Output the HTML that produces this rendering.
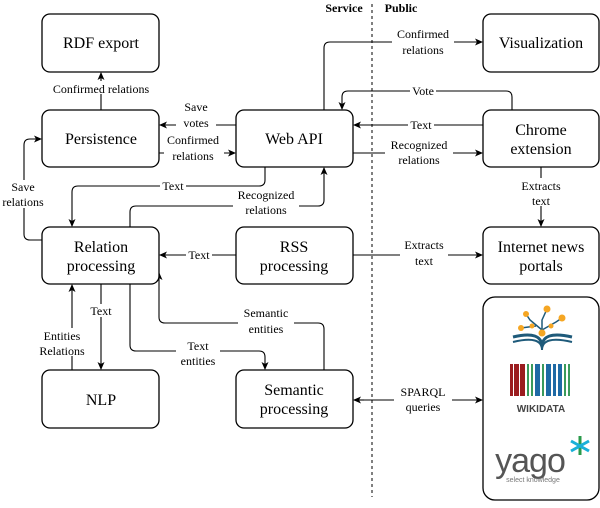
<!DOCTYPE html>
<html><head><meta charset="utf-8"><style>
html,body{margin:0;padding:0;background:#fff;}
svg, svg text, svg tspan{font-family:"Liberation Serif",serif !important;}
.bx{fill:#fff;stroke:#000;stroke-width:1.3;}
.ln{fill:none;stroke:#000;stroke-width:1.1;}
.wh{fill:#fff;}
svg text.sans{font-family:"Liberation Sans",sans-serif !important;}
</style></head><body>
<svg width="600" height="503" viewBox="0 0 600 503">
<defs><marker id="a" markerWidth="8" markerHeight="8" refX="7" refY="4" orient="auto" markerUnits="userSpaceOnUse"><path d="M0,0.5 L8,4 L0,7.5 L2,4 z" fill="#000"/></marker></defs>
<text x="344" y="12" font-size="12" text-anchor="middle" font-weight="bold" style="font-family:'Liberation Serif',serif">Service</text>
<text x="401" y="12" font-size="12" text-anchor="middle" font-weight="bold" style="font-family:'Liberation Serif',serif">Public</text>
<line x1="372" y1="4" x2="372" y2="497" stroke="#000" stroke-dasharray="3,3" stroke-width="1"/>

<path class="ln" d="M101,110 V73" marker-end="url(#a)"/>
<path class="ln" d="M236,125 H160" marker-end="url(#a)"/>
<path class="ln" d="M159,153 H235" marker-end="url(#a)"/>
<path class="ln" d="M324,110 V48 Q324,42 330,42 H482" marker-end="url(#a)"/>
<path class="ln" d="M512,110 V97 Q512,91 506,91 H348 Q342,91 342,97 V109" marker-end="url(#a)"/>
<path class="ln" d="M483,125 H354" marker-end="url(#a)"/>
<path class="ln" d="M353,153 H482" marker-end="url(#a)"/>
<path class="ln" d="M541,167 V226" marker-end="url(#a)"/>
<path class="ln" d="M265,167 V180 Q265,186 259,186 H78 Q72,186 72,192 V226" marker-end="url(#a)"/>
<path class="ln" d="M130,227 V212 Q130,206 136,206 H318 Q324,206 324,200 V168" marker-end="url(#a)"/>
<path class="ln" d="M42,240 H30 Q24,240 24,234 V145 Q24,139 30,139 H41" marker-end="url(#a)"/>
<path class="ln" d="M236,255 H160" marker-end="url(#a)"/>
<path class="ln" d="M353,255 H482" marker-end="url(#a)"/>
<path class="ln" d="M101,284 V369" marker-end="url(#a)"/>
<path class="ln" d="M72,370 V285" marker-end="url(#a)"/>
<path class="ln" d="M130,284 V345 Q130,351 136,351 H259 Q265,351 265,357 V369" marker-end="url(#a)"/>
<path class="ln" d="M324,370 V329 Q324,323 318,323 H165 Q159,323 159,317 V273" marker-end="url(#a)"/>
<path class="ln" d="M364,400 H482" marker-end="url(#a)"/>
<path class="ln" d="M364,400 H354" marker-end="url(#a)"/>

<g font-size="12" text-anchor="middle" style="font-family:'Liberation Serif',serif">
<rect class="wh" x="50" y="81" width="102" height="13"/><text x="101" y="93">Confirmed relations</text>
<rect class="wh" x="176" y="115" width="40" height="14"/><text x="196" y="111">Save</text><text x="196" y="127">votes</text>
<rect class="wh" x="164" y="133" width="60" height="30"/><text x="193" y="144">Confirmed</text><text x="193" y="160">relations</text>
<rect class="wh" x="392" y="28" width="62" height="28"/><text x="423" y="38">Confirmed</text><text x="423" y="54">relations</text>
<rect class="wh" x="410" y="84" width="26" height="13"/><text x="423" y="95">Vote</text>
<rect class="wh" x="408" y="118" width="26" height="13"/><text x="421" y="129">Text</text>
<rect class="wh" x="385" y="138" width="68" height="28"/><text x="419" y="149">Recognized</text><text x="419" y="164">relations</text>
<rect class="wh" x="518" y="178" width="46" height="28"/><text x="541" y="190">Extracts</text><text x="541" y="205">text</text>
<rect class="wh" x="160" y="179" width="26" height="13"/><text x="173" y="190">Text</text>
<rect class="wh" x="233" y="188" width="66" height="28"/><text x="266" y="199">Recognized</text><text x="266" y="214">relations</text>
<rect class="wh" x="0" y="180" width="48" height="28"/><text x="23" y="191">Save</text><text x="23" y="206">relations</text>
<rect class="wh" x="186" y="248" width="26" height="13"/><text x="199" y="259">Text</text>
<rect class="wh" x="400" y="238" width="48" height="28"/><text x="424" y="249">Extracts</text><text x="424" y="265">text</text>
<rect class="wh" x="88" y="304" width="26" height="13"/><text x="101" y="315">Text</text>
<rect class="wh" x="36" y="328" width="52" height="28"/><text x="62" y="340">Entities</text><text x="62" y="355">Relations</text>
<rect class="wh" x="176" y="338" width="44" height="28"/><text x="198" y="350">Text</text><text x="198" y="365">entities</text>
<rect class="wh" x="238" y="306" width="56" height="28"/><text x="266" y="317">Semantic</text><text x="266" y="333">entities</text>
<rect class="wh" x="394" y="385" width="58" height="28"/><text x="423" y="396">SPARQL</text><text x="423" y="411">queries</text>
</g>

<g font-size="16" text-anchor="middle" style="font-family:'Liberation Serif',serif">
<rect class="bx" x="42" y="14" width="117" height="58" rx="8"/><text x="101" y="48">RDF export</text>
<rect class="bx" x="483" y="14" width="116" height="58" rx="8"/><text x="541" y="48">Visualization</text>
<rect class="bx" x="42" y="110" width="117" height="57" rx="8"/><text x="101" y="144">Persistence</text>
<rect class="bx" x="236" y="110" width="117" height="57" rx="8"/><text x="294" y="144">Web API</text>
<rect class="bx" x="483" y="110" width="116" height="57" rx="8"/><text x="541" y="135">Chrome</text><text x="541" y="154">extension</text>
<rect class="bx" x="42" y="227" width="117" height="57" rx="8"/><text x="101" y="252">Relation</text><text x="101" y="271">processing</text>
<rect class="bx" x="236" y="227" width="117" height="57" rx="8"/><text x="294" y="252">RSS</text><text x="294" y="271">processing</text>
<rect class="bx" x="483" y="227" width="116" height="57" rx="8"/><text x="541" y="252">Internet news</text><text x="541" y="271">portals</text>
<rect class="bx" x="42" y="370" width="117" height="58" rx="8"/><text x="101" y="405">NLP</text>
<rect class="bx" x="236" y="370" width="117" height="58" rx="8"/><text x="294" y="395">Semantic</text><text x="294" y="414">processing</text>
<rect class="bx" x="483" y="297" width="116" height="203" rx="12"/>
</g>

<g>
<path d="M513,337 Q542,330 542,347 Q542,330 572,337" fill="none" stroke="#1e5a7a" stroke-width="3"/>
<path d="M513,342 Q542,335 542,350 Q542,335 572,342" fill="none" stroke="#1e5a7a" stroke-width="2"/>
<g stroke="#1e5a7a" stroke-width="1.5" fill="none"><path d="M542,334 L542,320 L547,309"/><path d="M542,330 L530,320 L526,314"/><path d="M542,330 L556,322 L562,318"/><path d="M536,326 L521,328"/></g>
<g fill="#f5a623"><circle cx="547" cy="309" r="3.5"/><circle cx="526" cy="314" r="3"/><circle cx="562" cy="318" r="3.5"/><circle cx="521" cy="328" r="3"/><circle cx="542" cy="333" r="3.5"/><circle cx="532" cy="326" r="2.5"/><circle cx="551" cy="326" r="2.5"/></g>
</g>
<g>
<rect x="510" y="364" width="3" height="32" fill="#9b1c1f"/><rect x="514" y="364" width="5" height="32" fill="#9b1c1f"/><rect x="520" y="364" width="5" height="32" fill="#9b1c1f"/>
<rect x="527" y="364" width="2" height="32" fill="#3a9a5b"/><rect x="531" y="364" width="2" height="32" fill="#3a9a5b"/><rect x="535" y="364" width="5" height="32" fill="#1f6aa5"/>
<rect x="542" y="364" width="2" height="32" fill="#3a9a5b"/><rect x="546" y="364" width="5" height="32" fill="#1f6aa5"/><rect x="553" y="364" width="3" height="32" fill="#1f6aa5"/>
<rect x="558" y="364" width="4" height="32" fill="#1f6aa5"/><rect x="564" y="364" width="2" height="32" fill="#3a9a5b"/><rect x="568" y="364" width="2" height="32" fill="#3a9a5b"/>
<text class="sans" x="541" y="412" font-weight="bold" font-size="10" fill="#444" text-anchor="middle">WIKIDATA</text>
</g>
<g>
<text class="sans" x="530" y="472" font-size="34" fill="#555" text-anchor="middle" letter-spacing="-1">yago</text>
<text class="sans" x="533" y="482" font-size="7" fill="#777" text-anchor="middle">select knowledge</text>
<g stroke-width="3"><line x1="580" y1="436" x2="580" y2="455" stroke="#2a9a4a"/><line x1="571" y1="441" x2="589" y2="451" stroke="#19b0d8"/><line x1="571" y1="451" x2="589" y2="441" stroke="#19b0d8"/></g>
</g>
</svg>
</body></html>
